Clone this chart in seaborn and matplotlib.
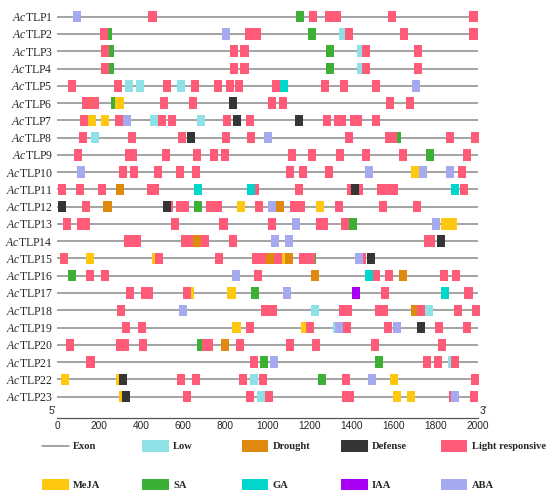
import pandas as pd
import seaborn as sns
import matplotlib.pyplot as plt
from matplotlib.patches import Rectangle
from matplotlib.lines import Line2D

genes = [r"$\mathit{Ac}$TLP" + str(i) for i in range(1, 24)]

# element positions (bp) per gene number
light = {
    1: [453, 1217, 1293, 1329, 1591, 1981],
    2: [220, 913, 950, 1387, 1650, 1981],
    3: [229, 843, 891, 1470, 1717],
    4: [229, 843, 891, 1470, 1717],
    5: [68, 290, 522, 657, 764, 823, 866, 1039, 1276, 1364, 1515],
    6: [138, 181, 509, 644, 1021, 1074, 1583, 1679],
    7: [126, 296, 500, 546, 808, 916, 1282, 1338, 1357, 1414, 1430, 1518],
    8: [124, 355, 592, 805, 923, 1387, 1577, 1596, 1871, 1990],
    9: [97, 342, 361, 517, 665, 748, 797, 1118, 1212, 1344, 1470, 1644, 1951],
    10: [313, 363, 479, 582, 662, 1106, 1169, 1295, 1928],
    11: [21, 107, 213, 447, 463, 939, 1150, 1399, 1435, 1540, 1572, 1604, 1936],
    12: [137, 533, 584, 609, 727, 765, 958, 1126, 1158, 1341, 1551, 1712],
    13: [46, 113, 138, 562, 791, 1023, 1249, 1268, 1370],
    14: [336, 377, 609, 625, 705, 838, 1765, 1780],
    15: [33, 484, 770, 944, 974, 1050, 1171, 1205, 1451],
    16: [154, 226, 955, 1516, 1578, 1842, 1896],
    17: [348, 418, 437, 617, 1558, 1957],
    18: [301, 988, 1026, 1359, 1384, 1532, 1556, 1729, 1908, 1993],
    19: [329, 404, 915, 1201, 1379, 1574, 1817, 1949],
    20: [62, 298, 323, 409, 708, 724, 870, 1109, 1230, 1511, 1830],
    21: [158, 937, 1761, 1814, 1892],
    22: [589, 660, 883, 978, 1375, 1986],
    23: [616, 916, 1009, 1375, 1391, 1884, 1984],
}
low = {2: [1360], 3: [1445], 4: [1445], 5: [342, 393, 589], 7: [458, 683],
       8: [181], 18: [1228, 1768], 19: [1333], 21: [1881], 22: [937], 23: [969]}
ga = {5: [1077], 11: [668, 923, 1893], 16: [1484], 17: [1847]}
sa = {1: [1157], 2: [240, 1212], 3: [251, 1297], 4: [251, 1297], 6: [274], 8: [1618],
      9: [1774], 12: [668], 13: [1407], 15: [1210], 16: [70], 17: [939], 20: [683],
      21: [982, 1532], 22: [1262]}
drought = {6: [161], 11: [299], 12: [239, 1061], 14: [665], 15: [1012, 1102],
           16: [1228, 1647], 18: [1701], 20: [796]}
meja = {6: [296], 7: [165, 229], 10: [1704], 12: [874, 1252], 13: [1847, 1881],
        15: [156, 471, 1064], 17: [633, 829], 19: [853, 1181], 22: [38, 299, 1602],
        23: [312, 1617, 1683]}
defense = {6: [834], 7: [854, 1150], 8: [635], 11: [1418], 12: [22, 520], 14: [1828],
           15: [1492], 19: [1733], 22: [313], 23: [329]}
aba = {1: [92], 2: [805], 5: [1706], 7: [333], 8: [1004], 10: [111, 1484, 1741, 1871],
       12: [1021], 13: [1138, 1801], 14: [1036, 1101], 15: [1437], 16: [850], 17: [1095],
       18: [600], 19: [1341, 1615], 21: [1031], 22: [1497], 23: [1893]}
iaa = {17: [1421]}

colors = {
    "Low": "#8fe1e8",
    "Drought": "#e0890f",
    "Defense": "#353535",
    "Light responsive": "#ff5a78",
    "MeJA": "#ffc80f",
    "SA": "#3cb035",
    "GA": "#00d6cc",
    "IAA": "#a800f5",
    "ABA": "#a4a9f0",
}

# drawing order (later ones sit on top)
layers = [("Low", low), ("SA", sa), ("Drought", drought), ("MeJA", meja),
          ("Light responsive", light), ("ABA", aba), ("Defense", defense),
          ("GA", ga), ("IAA", iaa)]

records = []
for name, sites in layers:
    for g, positions in sites.items():
        for p in positions:
            records.append({"gene": g - 1, "pos": p, "element": name})
df = pd.DataFrame(records)

sns.set_style("white")
plt.rcParams["font.family"] = ["Liberation Sans", "DejaVu Sans"]
plt.rcParams["mathtext.fontset"] = "custom"
plt.rcParams["mathtext.rm"] = "Liberation Serif"
plt.rcParams["mathtext.it"] = "Liberation Serif:italic"

fig = plt.figure(figsize=(5.5, 4.9), dpi=100)
ax = fig.add_axes([0.1042, 0.1469, 0.764, 0.8531])

# exon lines
ax.hlines(range(len(genes)), 0, 2000, color="#8a8a8a", lw=1.1, zorder=1)

box = [(-0.35, -0.5), (0.35, -0.5), (0.35, 0.5), (-0.35, 0.5)]
sns.scatterplot(data=df, x="pos", y="gene", hue="element", palette=colors,
                marker=box, s=68.6, linewidth=0, legend=False, ax=ax,
                zorder=2, clip_on=False)

ax.set_xlim(0, 2000)
ax.set_ylim(23.24, -0.967)
ax.set_xlabel("")
ax.set_ylabel("")
ax.set_xticks(range(0, 2001, 200))
ax.set_yticks(range(len(genes)))
ax.set_yticklabels(genes, fontfamily="Liberation Serif", fontsize=8.5)
ax.tick_params(axis="y", length=0, pad=3.2)
ax.tick_params(axis="x", direction="in", length=4, width=0.8, color="#555555",
               labelsize=7.3, pad=2)
for s in ["left", "top", "right"]:
    ax.spines[s].set_visible(False)
ax.spines["bottom"].set_color("#555555")
ax.spines["bottom"].set_linewidth(0.9)

ax.text(-6, 0.006, "5'", transform=ax.get_xaxis_transform(), ha="right",
        va="bottom", fontsize=7.3)
ax.text(2012, 0.006, "3'", transform=ax.get_xaxis_transform(), ha="left",
        va="bottom", fontsize=7.3)


# legend, laid out in pixel positions
def fx(px):
    return px / 550


def fy(py):
    return 1 - py / 490


legend_top = ["Exon", "Low", "Drought", "Defense", "Light responsive"]
legend_bottom = ["MeJA", "SA", "GA", "IAA", "ABA"]
col_left = [42, 142, 241.5, 341, 441]
row_y = [446, 485]

for row, names in zip(row_y, [legend_top, legend_bottom]):
    for left, name in zip(col_left, names):
        if name == "Exon":
            fig.add_artist(Line2D([fx(left), fx(left + 27)], [fy(row), fy(row)],
                                  transform=fig.transFigure, color="#8a8a8a", lw=1.1))
        else:
            fig.add_artist(Rectangle((fx(left), fy(row + 5.65)), 26.5 / 550, 11.3 / 490,
                                     transform=fig.transFigure, color=colors[name], lw=0))
        fig.text(fx(left + 31), fy(row), name, ha="left", va="center",
                 fontfamily="Liberation Serif", fontweight="bold", fontsize=7.6)

fig.savefig("out.png", dpi=100)
